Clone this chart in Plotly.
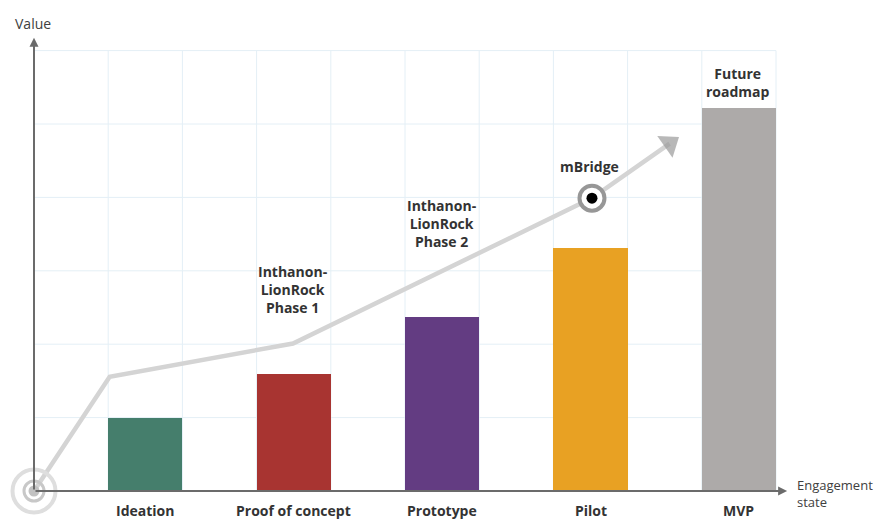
import plotly.graph_objects as go

# ---------------- data ----------------
categories = ["Ideation", "Proof of concept", "Prototype", "Pilot", "MVP"]
bar_positions = [1.5, 3.5, 5.5, 7.5, 9.5]
bar_values = [1.0, 1.59, 2.37, 3.31, 5.22]
bar_colors = ["#457e6c", "#a83431", "#633c82", "#e8a123", "#adaaa9"]

trend_x = [0, 1.02, 3.49, 7.52, 8.566]
trend_y = [0, 1.555, 2.01, 3.99, 4.733]

milestone_labels = ["Inthanon-<br>LionRock<br>Phase 1",
                    "Inthanon-<br>LionRock<br>Phase 2",
                    "mBridge",
                    "Future<br>roadmap"]
milestone_x = [3.49, 5.5, 7.49, 9.49]
milestone_y = [2.74, 3.65, 4.42, 5.57]

mbridge_index = 3
grid_cols = 10
grid_rows = 6

# ---------------- figure ----------------
FONT = "Open Sans"
TXT = "#333333"
GRID = "#e4eff6"
AXIS = "#6b6b6b"

fig = go.Figure()

fig.add_trace(go.Bar(
    x=bar_positions, y=bar_values, width=1.0,
    marker=dict(color=bar_colors, line=dict(width=0)),
    hoverinfo="skip"))

fig.add_trace(go.Scatter(
    x=trend_x, y=trend_y, mode="lines",
    line=dict(color="#d4d4d4", width=4.5),
    cliponaxis=False, hoverinfo="skip"))

# arrow head at end of trend line
fig.add_trace(go.Scatter(
    x=trend_x[-2:], y=trend_y[-2:], mode="markers",
    marker=dict(symbol="triangle-up", size=[0, 23], color="#9a9a9a",
                angleref="previous", line=dict(width=0)),
    cliponaxis=False, hoverinfo="skip"))

# origin target marker
fig.add_trace(go.Scatter(
    x=[trend_x[0]], y=[trend_y[0]], mode="markers",
    marker=dict(symbol="circle-open", size=43, color="#dedede", line=dict(color="#dedede", width=4)),
    cliponaxis=False, hoverinfo="skip"))
fig.add_trace(go.Scatter(
    x=[trend_x[0]], y=[trend_y[0]], mode="markers",
    marker=dict(symbol="circle-open", size=20, color="#c8c8c8", line=dict(color="#c8c8c8", width=3)),
    cliponaxis=False, hoverinfo="skip"))
fig.add_trace(go.Scatter(
    x=[trend_x[0]], y=[trend_y[0]], mode="markers",
    marker=dict(symbol="circle", size=11, color="#c2c2c2", line=dict(width=0)),
    cliponaxis=False, hoverinfo="skip"))

# mBridge marker
fig.add_trace(go.Scatter(
    x=[trend_x[mbridge_index]], y=[trend_y[mbridge_index]], mode="markers",
    marker=dict(symbol="circle", size=25, color="white", line=dict(color="#979797", width=4)),
    cliponaxis=False, hoverinfo="skip"))
fig.add_trace(go.Scatter(
    x=[trend_x[mbridge_index]], y=[trend_y[mbridge_index]], mode="markers",
    marker=dict(symbol="circle", size=11, color="#000000", line=dict(width=0)),
    cliponaxis=False, hoverinfo="skip"))

# grid
shapes = []
for i in range(grid_cols + 1):
    shapes.append(dict(type="line", xref="x", yref="y", x0=i, x1=i, y0=0, y1=grid_rows,
                       line=dict(color=GRID, width=1), layer="below"))
for j in range(1, grid_rows + 1):
    shapes.append(dict(type="line", xref="x", yref="y", x0=0, x1=grid_cols, y0=j, y1=j,
                       line=dict(color=GRID, width=1), layer="below"))

annotations = []
# axes with arrows
annotations.append(dict(x=0, y=6.176, ax=0, ay=0, xref="x", yref="y", axref="x", ayref="y",
                        text="", showarrow=True, arrowhead=2, arrowsize=0.9, arrowwidth=2,
                        arrowcolor=AXIS, standoff=0))
annotations.append(dict(x=10.15, y=0, ax=0, ay=0, xref="x", yref="y", axref="x", ayref="y",
                        text="", showarrow=True, arrowhead=2, arrowsize=0.9, arrowwidth=2,
                        arrowcolor=AXIS, standoff=0))

annotations.append(dict(x=-0.02, y=6.376, xref="x", yref="y", text="Value", showarrow=False,
                        font=dict(family=FONT, size=14, color="#404040"),
                        xanchor="center", yanchor="middle"))
annotations.append(dict(x=10.255, y=-0.04, xref="x", yref="y", text="Engagement<br>state",
                        showarrow=False, align="left",
                        font=dict(family=FONT, size=13, color="#404040"),
                        xanchor="left", yanchor="middle"))

for cx, lab in zip(bar_positions, categories):
    annotations.append(dict(x=cx, y=-0.27, xref="x", yref="y", text="<b>%s</b>" % lab,
                            showarrow=False, font=dict(family=FONT, size=14, color=TXT),
                            xanchor="center", yanchor="middle"))

for mx, my, lab in zip(milestone_x, milestone_y, milestone_labels):
    annotations.append(dict(x=mx, y=my, xref="x", yref="y", text="<b>%s</b>" % lab.replace("<br>", "</b><br><b>"),
                            showarrow=False, font=dict(family=FONT, size=14, color=TXT),
                            xanchor="center", yanchor="middle", align="center"))

# page body has an 8px margin; the figure covers reference pixels 8..882 x 8..519
fig.update_layout(
    width=874, height=511,
    margin=dict(l=0, r=0, t=0, b=0, pad=0),
    paper_bgcolor="white", plot_bgcolor="white",
    showlegend=False,
    xaxis=dict(range=[-0.3504, 11.4286], visible=False, fixedrange=True),
    yaxis=dict(range=[-0.3815, 6.5804], visible=False, fixedrange=True),
    shapes=shapes, annotations=annotations,
    bargap=0,
)

fig.write_html("out.html")
